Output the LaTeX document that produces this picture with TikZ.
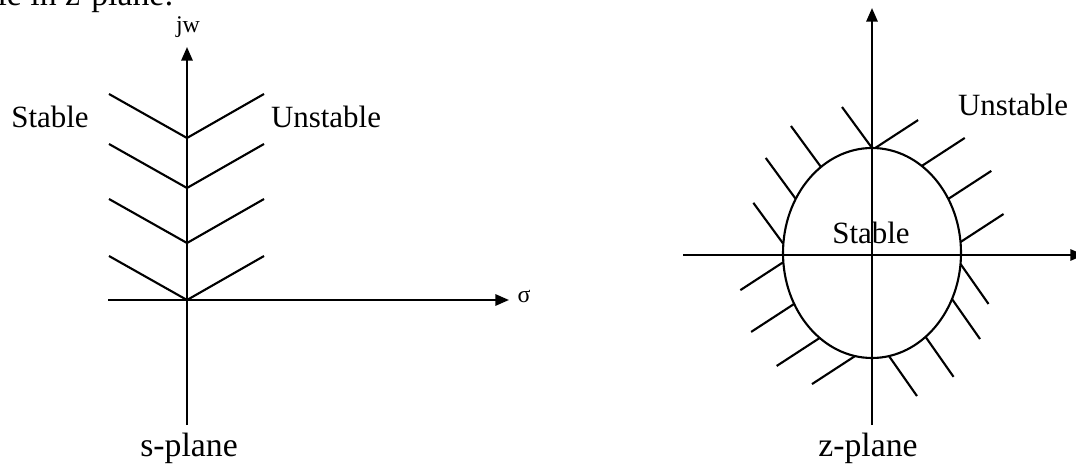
\documentclass[tikz,border=0pt]{standalone}
\usepackage{fontspec}
\setmainfont{Liberation Serif}
\usetikzlibrary{arrows.meta}
\tikzset{
  ax/.style={line width=1.6pt, -{Triangle[length=3.4mm, width=2.8mm]}},
  tick/.style={line width=1.5pt},
  lbl/.style={font=\fontsize{22}{24}\selectfont, inner sep=0pt},
  big/.style={font=\fontsize{24}{26}\selectfont, inner sep=0pt},
  small/.style={font=\fontsize{17}{19}\selectfont, inner sep=0pt},
}
\begin{document}
\begin{tikzpicture}[x=0.025cm, y=-0.025cm]
\useasboundingbox (0,0) rectangle (1076,464);
\clip (0,0) rectangle (1076,464);
\node[big, anchor=base east] (cap) at (174,6) {circle in z-plane:};
\coordinate (so) at (187,300);
\coordinate (sbot) at (187,425);
\coordinate (stop) at (187,47);
\coordinate (sleft) at (108,300);
\coordinate (sright) at (509,300);
\draw[ax] (sbot) -- (stop);
\draw[ax] (sleft) -- (sright);
\foreach \y in {300,243,188,138} {
  \draw[tick] (187,\y) -- ++(-78,-44);
  \draw[tick] (187,\y) -- ++(77,-44);
}
\node[small] (jw) at (188,27) {jw};
\node[small] (sig) at (524,297) {σ};
\node[lbl] (sst) at (50,117) {Stable};
\node[lbl] (sun) at (326,117) {Unstable};
\node[big] (sp) at (189,448) {s-plane};
\coordinate (zo) at (872,253);
\coordinate (zbot) at (872,425);
\coordinate (ztop) at (872,8);
\coordinate (zleft) at (683,255);
\coordinate (zright) at (1084,255);
\draw[ax] (zbot) -- (ztop);
\draw[ax] (zleft) -- (zright);
\draw[tick] (zo) ellipse [x radius=89, y radius=105];
\foreach \t in {90,125,149,175} \draw[tick] (zo) ++(-\t:89 and 105) -- ++(-30,-41);
\foreach \t in {88,56,31,6} \draw[tick] (zo) ++(-\t:89 and 105) -- ++(43,-28);
\foreach \t in {185,209,234,259} \draw[tick] (zo) ++(-\t:89 and 105) -- ++(-43,28);
\foreach \t in {354,334,307,281} \draw[tick] (zo) ++(-\t:89 and 105) -- ++(28,40);
\node[lbl] (zst) at (871,233) {Stable};
\node[lbl] (zun) at (1013,105) {Unstable};
\node[big] (zp) at (868,448) {z-plane};
\end{tikzpicture}
\end{document}
